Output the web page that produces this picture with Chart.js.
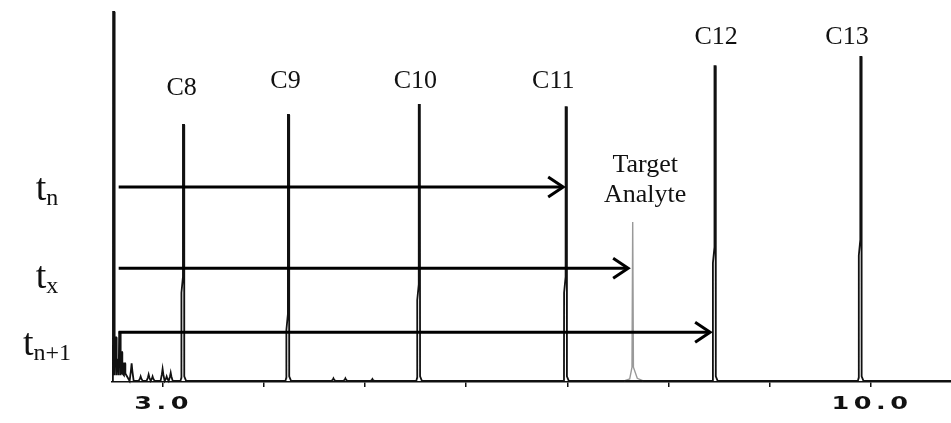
<!DOCTYPE html>
<html>
<head>
<meta charset="utf-8">
<script src="https://cdn.jsdelivr.net/npm/chart.js@4"></script>
<style>
  body { margin: 0; background: #fff; }
  #wrap { width: 951px; height: 423px; }
</style>
</head>
<body>
<div id="wrap"><canvas id="gc" width="951" height="423"></canvas></div>
<script>
// n-alkane ladder (retention time in min, detector response in %)
const peakNames     = ['C8', 'C9', 'C10', 'C11', 'C12', 'C13'];
const peakTimes     = [3.207, 4.244, 5.537, 6.988, 8.459, 9.900];
const peakHeights   = [69.1, 71.8, 74.5, 73.9, 84.9, 87.4];
const peakShoulders = [24, 14, 22, 24, 32, 34];

// solvent front and the small junk peaks after it
const solventTimes   = [2.516, 2.536, 2.556, 2.576, 2.595, 2.625];
const solventHeights = [99.5, 12, 6, 13.4, 8, 5];
const noiseTimes     = [2.694, 2.783, 2.862, 2.901, 3.000, 3.040, 3.080, 4.688, 4.806, 5.073];
const noiseHeights   = [5, 1.5, 2, 1.5, 3.5, 1.5, 2.5, 1, 1, 0.8];

// unknown compound
const targetTime   = 7.648;
const targetHeight = 43.0;

// retention time arrows: t_n, t_x, t_n+1
const arrowStart  = 2.566;
const arrowEnds   = [6.958, 7.600, 8.410];
const arrowLevels = [52.4, 30.6, 13.4];
const arrowNames  = [['t', 'n'], ['t', 'x'], ['t', 'n+1']];

// x axis
const tickValues = [3, 4, 5, 6, 7, 8, 9, 10];
const tickLabels = ['3.0', '', '', '', '', '', '', '10.0'];

const BASE = 0.3;

// each peak is a short path; the trace is the paths joined in time order
let segments = [];

solventTimes.forEach((t, i) => {
    const h = solventHeights[i];
    segments.push({t: t, pts: [
        {x: t - 0.007, y: BASE + 1.5}, {x: t - 0.005, y: h},
        {x: t + 0.005, y: h}, {x: t + 0.007, y: BASE + 2}
    ]});
});
noiseTimes.forEach((t, i) => {
    const h = noiseHeights[i];
    segments.push({t: t, pts: [
        {x: t - 0.02, y: BASE}, {x: t - 0.007, y: h * 0.6},
        {x: t, y: h}, {x: t + 0.007, y: h * 0.6}, {x: t + 0.02, y: BASE}
    ]});
});
peakTimes.forEach((t, i) => {
    const h = peakHeights[i], s = peakShoulders[i];
    segments.push({t: t, pts: [
        {x: t - 0.03, y: BASE}, {x: t - 0.022, y: 1.2},
        {x: t - 0.021, y: s}, {x: t - 0.007, y: s + 4},
        {x: t - 0.006, y: h}, {x: t + 0.005, y: h},
        {x: t + 0.007, y: 1.5}, {x: t + 0.025, y: BASE}
    ]});
});
segments.sort((a, b) => a.t - b.t);

let trace = [{x: 2.505, y: BASE}];
segments.forEach(sg => { trace = trace.concat(sg.pts); });
trace.push({x: 10.79, y: BASE});

let targetTrace = [
    {x: 7.56, y: BASE}, {x: 7.615, y: 0.8}, {x: 7.638, y: 4},
    {x: 7.645, y: targetHeight}, {x: 7.652, y: 4}, {x: 7.69, y: 1}, {x: 7.75, y: BASE}
];

const serif = '"Liberation Serif", "Times New Roman", serif';

// labels, arrows and stretched tick numbers drawn on top of the trace
const overlay = {
    id: 'overlay',
    afterDraw(chart, args, opts) {
        const ctx = chart.ctx;
        const xs = chart.scales.x, ys = chart.scales.y;

        // tick numbers
        ctx.save();
        ctx.fillStyle = '#111';
        ctx.font = 'bold 17px "DejaVu Sans"';
        ctx.textAlign = 'center';
        ctx.letterSpacing = '3px';
        xs.ticks.forEach(tk => {
            const lbl = tickLabels[tickValues.indexOf(tk.value)];
            if (!lbl) return;
            ctx.save();
            ctx.translate(xs.getPixelForValue(tk.value) + 1, ys.bottom + 27);
            ctx.scale(1.5, 1);
            ctx.fillText(lbl, 0, 0);
            ctx.restore();
        });
        ctx.restore();

        // peak names
        ctx.save();
        ctx.fillStyle = '#111';
        ctx.font = '26px ' + serif;
        ctx.textAlign = 'center';
        opts.peakLabels.forEach(p => {
            ctx.fillText(p.text, xs.getPixelForValue(p.x), ys.getPixelForValue(p.y));
        });
        ctx.restore();

        // arrows
        ctx.save();
        ctx.strokeStyle = '#000';
        ctx.lineWidth = 3;
        arrowEnds.forEach((end, i) => {
            const y = ys.getPixelForValue(arrowLevels[i]);
            const x0 = xs.getPixelForValue(arrowStart);
            const x1 = xs.getPixelForValue(end);
            ctx.beginPath();
            ctx.moveTo(x0, y);
            ctx.lineTo(x1 - 1, y);
            ctx.stroke();
            ctx.beginPath();
            ctx.moveTo(x1 - 15, y - 10);
            ctx.lineTo(x1, y);
            ctx.lineTo(x1 - 15, y + 10);
            ctx.stroke();

            // retention time symbol on the left
            const [main, sub] = arrowNames[i];
            const base = y + opts.nameOffsets[i];
            ctx.fillStyle = '#111';
            ctx.font = '38px ' + serif;
            const wm = ctx.measureText(main).width;
            ctx.font = '24px ' + serif;
            const ws = ctx.measureText(sub).width;
            const left = 47 - (wm + ws) / 2;
            ctx.textAlign = 'left';
            ctx.font = '38px ' + serif;
            ctx.fillText(main, left, base);
            ctx.font = '24px ' + serif;
            ctx.fillText(sub, left + wm, base + 5);
        });
        ctx.restore();
    }
};

new Chart(document.getElementById('gc'), {
    type: 'line',
    data: {
        datasets: [
            {
                label: 'alkanes',
                data: trace,
                borderColor: '#111',
                borderWidth: 1.8,
                pointRadius: 0,
                tension: 0,
                clip: false
            },
            {
                label: 'target',
                data: targetTrace,
                borderColor: '#999',
                borderWidth: 1.4,
                pointRadius: 0,
                tension: 0,
                clip: false
            }
        ]
    },
    options: {
        responsive: false,
        animation: false,
        events: [],
        layout: { padding: { left: 112, top: 10, right: 0, bottom: 0 } },
        plugins: {
            legend: { display: false },
            tooltip: { enabled: false },
            overlay: {
                peakLabels: [
                    {text: 'C8',  x: 3.188, y: 77.2},
                    {text: 'C9',  x: 4.214, y: 79.0},
                    {text: 'C10', x: 5.498, y: 79.0},
                    {text: 'C11', x: 6.860, y: 79.0},
                    {text: 'C12', x: 8.469, y: 90.9},
                    {text: 'C13', x: 9.762, y: 90.9},
                    {text: 'Target',  x: 7.768, y: 56.5},
                    {text: 'Analyte', x: 7.768, y: 48.4}
                ],
                nameOffsets: [13, 20, 23]
            }
        },
        scales: {
            x: {
                type: 'linear',
                min: 2.5,
                max: 10.79,
                afterBuildTicks: s => { s.ticks = tickValues.map(v => ({value: v})); },
                afterFit: s => { s.height = 41; },
                ticks: { display: false },
                grid: {
                    display: true,
                    drawOnChartArea: false,
                    drawTicks: true,
                    tickLength: 5,
                    color: '#111',
                    lineWidth: 1.5
                },
                border: { display: true, color: '#111', width: 1.5 }
            },
            y: {
                min: 0,
                max: 100,
                display: false
            }
        }
    },
    plugins: [overlay]
});
</script>
</body>
</html>
